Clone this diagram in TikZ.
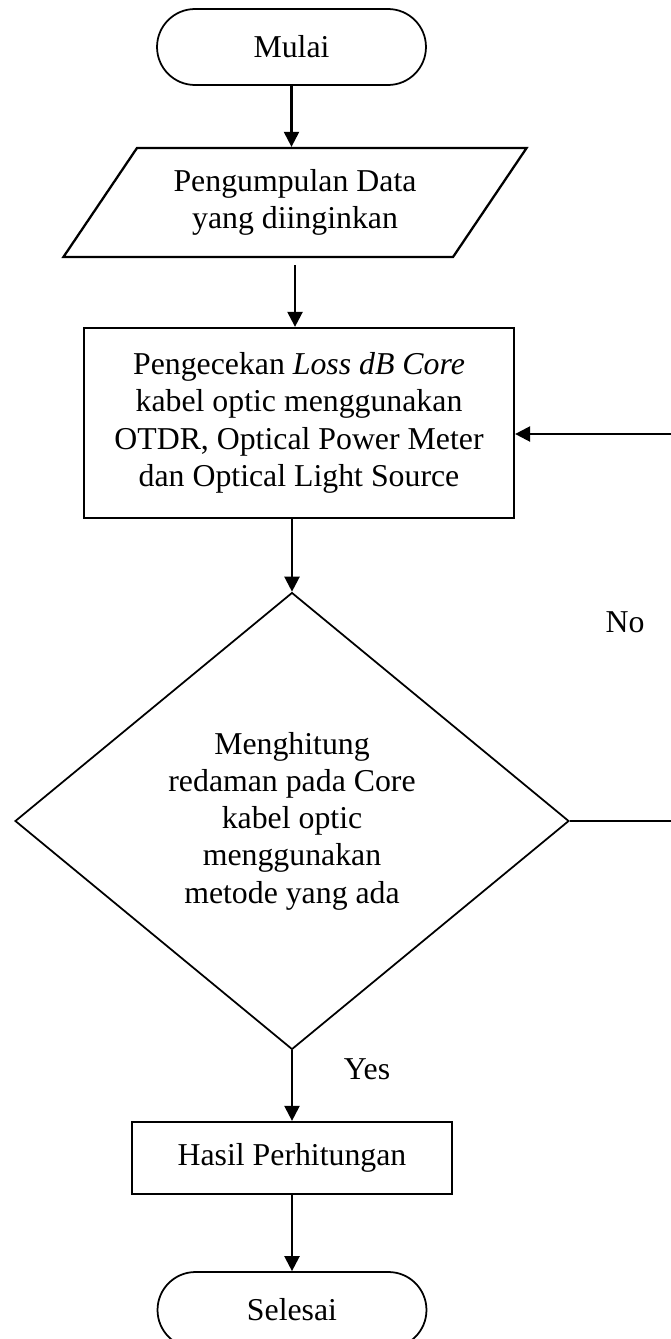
\documentclass[tikz,border=0pt]{standalone}
\usepackage{fontspec}
\setmainfont{Liberation Serif}
\usepackage{tikz}
\usetikzlibrary{shapes.misc,shapes.geometric,arrows.meta}

\begin{document}
\begin{tikzpicture}[x=0.02cm,y=-0.02cm,
  font=\fontsize{18.1}{21.2}\selectfont,
  term/.style={shape=rounded rectangle, draw, line width=1pt, minimum width=5.38cm, minimum height=1.52cm, inner sep=0pt},
  io/.style={shape=trapezium, trapezium left angle=49.5, trapezium right angle=130.5, trapezium stretches=true, draw, line width=1.3pt, minimum width=9.28cm, minimum height=2.18cm, align=center, inner sep=0pt},
  proc/.style={shape=rectangle, draw, line width=1.3pt, align=center, inner sep=0pt},
  dec/.style={shape=diamond, draw, line width=1pt, minimum width=11.08cm, minimum height=9.14cm, align=center, inner sep=0pt},
  arr/.style={line width=1.3pt, -{Triangle[length=0.3cm,width=0.3cm]}}]
\useasboundingbox (0,0) rectangle (670,1339);
\node[term] (start) at (291.5,47) {Mulai};
\node[io] (data) at (295,202.5) {Pengumpulan Data\\yang diinginkan};
\node[proc, minimum width=8.6cm, minimum height=3.8cm] (cek) at (299,423)
  {Pengecekan \textit{Loss dB Core}\\kabel optic menggunakan\\OTDR, Optical Power Meter\\dan Optical Light Source};
\node[dec] (hitung) at (292,821) {Menghitung\\redaman pada Core\\kabel optic\\menggunakan\\metode yang ada};
\node[proc, minimum width=6.4cm, minimum height=1.44cm] (hasil) at (292,1158) {Hasil Perhitungan};
\node[term] (stop) at (292,1310) {Selesai};
\node (no) at (625,622) {No};
\node (yes) at (367,1069) {Yes};
\coordinate (back) at (675,434);
% connectors
\draw[arr] (start.south) -- (start.south |- data.north);
\draw[arr, shorten <=0.14cm] (data.south) -- (data.south |- cek.north);
\draw[arr] (hitung.north |- cek.south) -- (hitung.north);
\draw[arr] (hitung.east) -| (back) -- (back -| cek.east);
\draw[arr] (hitung.south) -- (hasil.north);
\draw[arr] (hasil.south) -- (stop.north);
\end{tikzpicture}
\end{document}
